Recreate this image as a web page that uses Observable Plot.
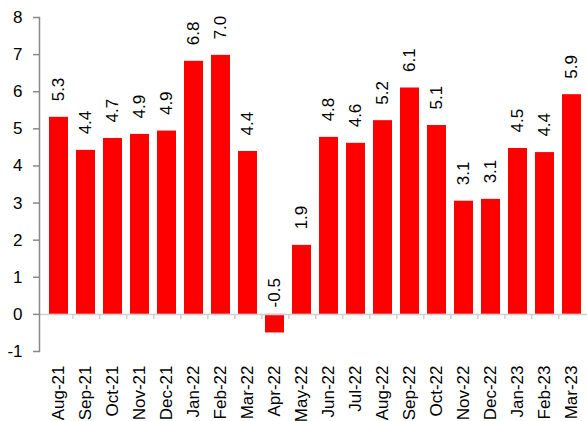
<!DOCTYPE html>
<html>
<head>
<meta charset="utf-8">
<script src="https://cdn.jsdelivr.net/npm/d3@7"></script>
<script src="https://cdn.jsdelivr.net/npm/@observablehq/plot@0.6"></script>
<style>
  html, body { margin: 0; padding: 0; background: #fff; overflow: hidden; }
  #chart { width: 587px; height: 421px; }
</style>
</head>
<body>
<div id="chart"></div>
<script>
const months = ["Aug-21","Sep-21","Oct-21","Nov-21","Dec-21","Jan-22","Feb-22","Mar-22","Apr-22","May-22","Jun-22","Jul-22","Aug-22","Sep-22","Oct-22","Nov-22","Dec-22","Jan-23","Feb-23","Mar-23"];
const values = [5.31,4.42,4.74,4.85,4.94,6.82,6.98,4.39,-0.50,1.86,4.77,4.61,5.22,6.10,5.09,3.05,3.10,4.47,4.36,5.92];
const valueLabels = ["5.3","4.4","4.7","4.9","4.9","6.8","7.0","4.4","-0.5","1.9","4.8","4.6","5.2","6.1","5.1","3.1","3.1","4.5","4.4","5.9"];
const yTicks = [-1,0,1,2,3,4,5,6,7,8];

const data = months.map((m, i) => ({month: m, value: values[i], label: valueLabels[i]}));
const font = "Liberation Sans, Arial, sans-serif";

const chart = Plot.plot({
  width: 587,
  height: 421,
  marginLeft: 39,
  marginRight: -4,
  marginTop: 17,
  marginBottom: 70,
  style: {fontFamily: font, fontSize: "17px", color: "#000", background: "#fff", overflow: "visible"},
  x: {domain: months, paddingInner: 0.31, paddingOuter: 0.155, label: null},
  y: {domain: [-1, 8], label: null},
  marks: [
    Plot.barY(data, {x: "month", y: "value", fill: "#ff0000"}),
    Plot.ruleY([0], {stroke: "#d0d0d0", strokeWidth: 1.5}),
    Plot.ruleX(months.slice(0, -1), {x: d => d, dx: 13.8, y1: 0, y2: 0, insetBottom: -5, stroke: "#d0d0d0", strokeWidth: 1.5}),
    Plot.frame({anchor: "left", stroke: "#888", strokeWidth: 1.5}),
    Plot.axisY({ticks: yTicks, tickFormat: d => String(d), tickSize: 6, tickPadding: 11, stroke: "#888", strokeWidth: 1.5, fontSize: 17, label: null}),
    Plot.axisX({tickRotate: -90, tickSize: 0, tickPadding: 14, fontSize: 17, label: null}),
    Plot.text(data.filter(d => d.value >= 0), {x: "month", y: "value", text: "label", rotate: -90, textAnchor: "start", dy: -16, fontSize: 17, fill: "#000"}),
    Plot.text(data.filter(d => d.value < 0), {x: "month", y: 0, text: "label", rotate: -90, textAnchor: "start", dy: -7, fontSize: 17, fill: "#000"})
  ]
});
document.getElementById("chart").appendChild(chart);
</script>
</body>
</html>
